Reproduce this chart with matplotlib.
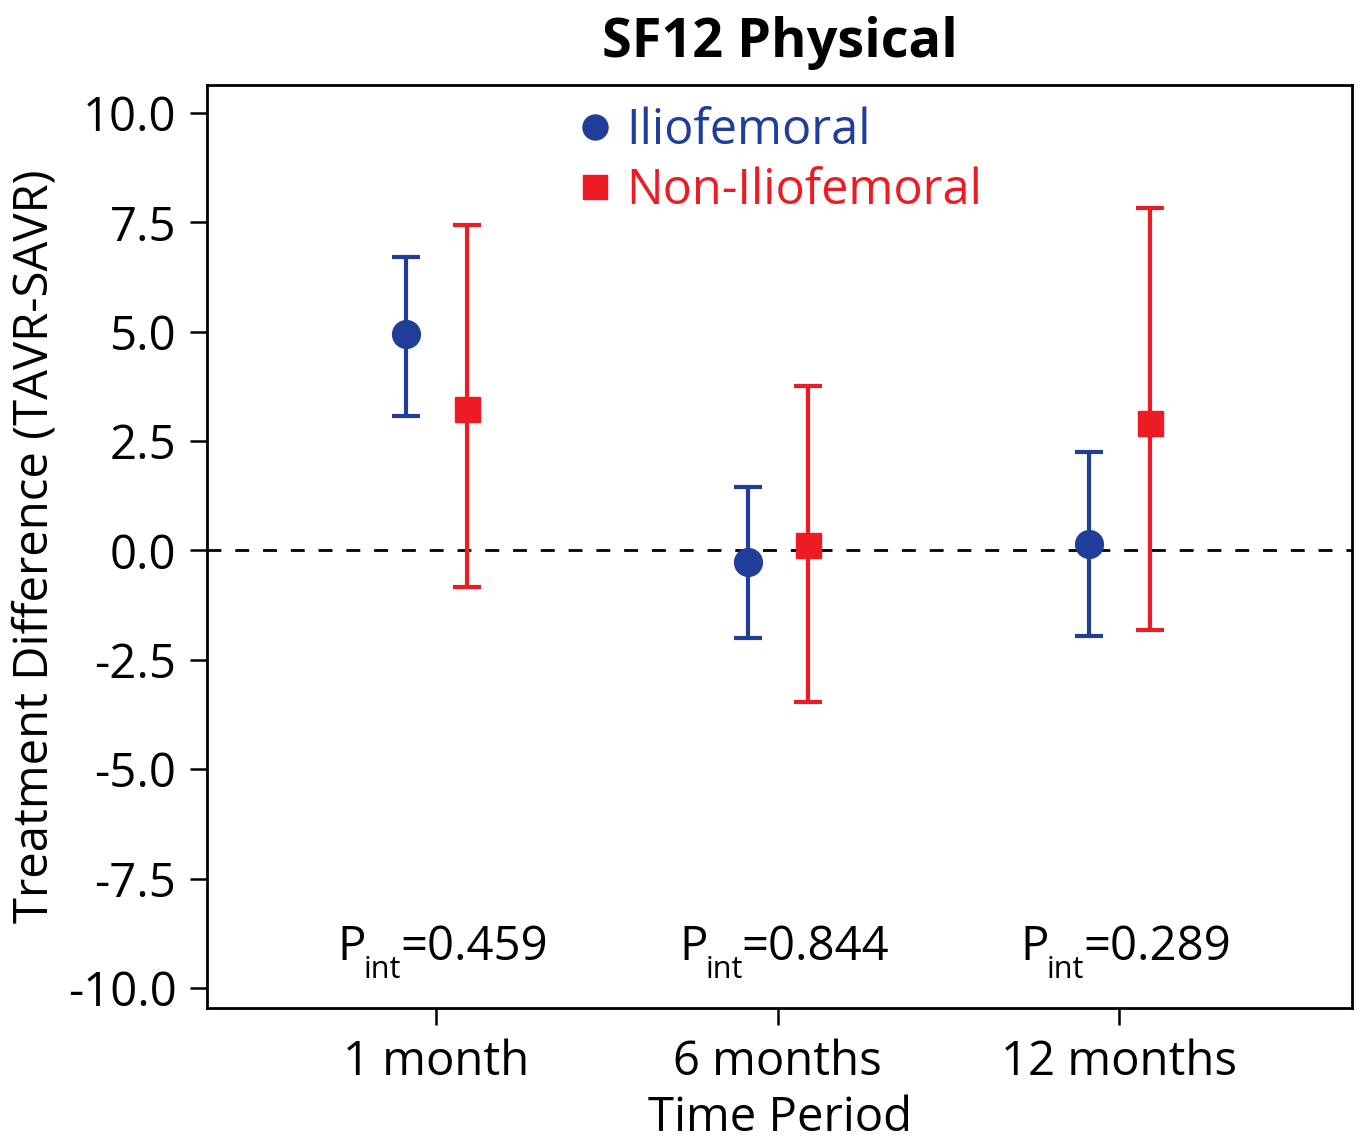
import matplotlib
matplotlib.use("Agg")
import matplotlib.pyplot as plt
from matplotlib.lines import Line2D
import numpy as np

plt.rcParams['font.family'] = ['Open Sans', 'DejaVu Sans']

#time points and interaction p-values
periods = ['1 month', '6 months', '12 months']
p_int = ['0.459', '0.844', '0.289']

#treatment difference (TAVR-SAVR) with 95% CI
ilio_mean = [4.95, -0.27, 0.14]
ilio_low = [3.08, -2.01, -1.95]
ilio_high = [6.72, 1.46, 2.24]

non_mean = [3.23, 0.13, 2.91]
non_low = [-0.83, -3.46, -1.82]
non_high = [7.44, 3.76, 7.84]

blue = '#1f3d99'
red = '#ed1c24'

x = np.arange(len(periods))

fig = plt.figure(figsize=(13.63, 11.46), dpi=100)
ax = fig.add_axes([0.1519, 0.1204, 0.992 - 0.1519, 0.9258 - 0.1204])

ax.axhline(0, color='black', lw=2, ls=(0, (5, 5)), zorder=1)

ilio_err = [np.array(ilio_mean) - np.array(ilio_low), np.array(ilio_high) - np.array(ilio_mean)]
non_err = [np.array(non_mean) - np.array(non_low), np.array(non_high) - np.array(non_mean)]

ax.errorbar(x - 0.087, ilio_mean, yerr=ilio_err, fmt='o', color=blue, ms=20,
            elinewidth=3, capsize=10, capthick=3, zorder=3)
ax.errorbar(x + 0.09, non_mean, yerr=non_err, fmt='s', color=red, ms=18,
            elinewidth=3, capsize=10, capthick=3, zorder=3)

# P_int labels: "P", lowered "int", then "=value"
for i, p in enumerate(p_int):
    ax.annotate('P', (x[i], -9.36), xytext=(-71, 0), textcoords='offset points',
                ha='left', va='baseline', fontsize=34)
    ax.annotate('int', (x[i], -9.36), xytext=(-52, -13), textcoords='offset points',
                ha='left', va='baseline', fontsize=22)
    ax.annotate('=' + p, (x[i], -9.36), xytext=(-26, 0), textcoords='offset points',
                ha='left', va='baseline', fontsize=34)

ax.set_xlim(-0.6706, 2.682)
ax.set_ylim(-10.46, 10.64)
ax.set_xticks(x)
ax.set_xticklabels(periods)
ax.set_yticks(np.arange(-10, 10.1, 2.5))
ax.set_yticklabels(['%.1f' % v for v in np.arange(-10, 10.1, 2.5)])
ax.tick_params(axis='both', labelsize=34, length=12, width=1.8, pad=10)

for s in ax.spines.values():
    s.set_linewidth(2)

ax.set_xlabel('Time Period', fontsize=34, labelpad=6)
ax.set_ylabel('Treatment Difference (TAVR-SAVR)', fontsize=34, labelpad=7)
ax.set_title('SF12 Physical', fontsize=39, fontweight='bold', pad=20)

# legend with markers only
handles = [Line2D([], [], ls='none', marker='o', color=blue, ms=18, label='Iliofemoral'),
           Line2D([], [], ls='none', marker='s', color=red, ms=17, label='Non-Iliofemoral')]
ax.legend(handles=handles, loc='upper left', bbox_to_anchor=(0.3258, 0.977), frameon=False,
          fontsize=35, handlelength=0.6, handletextpad=0.35, labelspacing=0.22,
          borderpad=0, borderaxespad=0, labelcolor='linecolor')

fig.savefig('out.png', dpi=100)
